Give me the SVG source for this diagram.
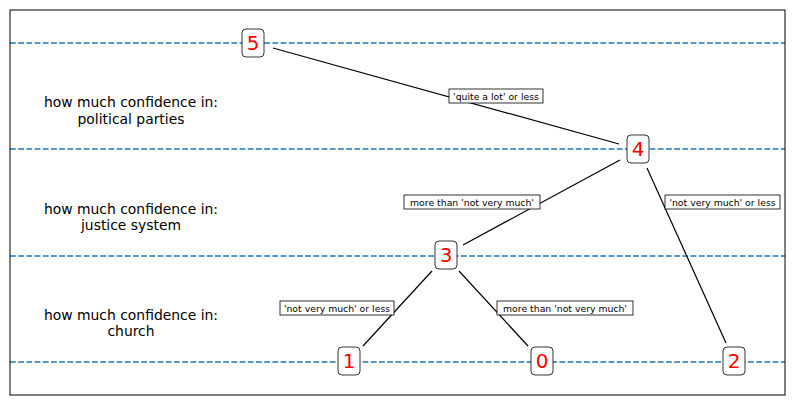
<svg xmlns="http://www.w3.org/2000/svg" width="794" height="405" viewBox="0 0 794 405">
<style>
.lvl{stroke:#1f77b4;stroke-width:1.6;stroke-dasharray:5.8 2.4;fill:none}
.edge{stroke:#000;stroke-width:1.2;fill:none}
.nbox{fill:#fff;stroke:#000;stroke-width:0.8}
.ntxt{font-family:"DejaVu Sans",sans-serif;font-size:20px;fill:#ff0000;text-anchor:middle}
.lbox{fill:#fff;stroke:#000;stroke-width:0.8}
.ltxt{font-family:"DejaVu Sans",sans-serif;font-size:9.3px;fill:#000;text-anchor:middle}
.side{font-family:"DejaVu Sans",sans-serif;font-size:13.9px;fill:#000;text-anchor:middle}
</style>
<rect x="0" y="0" width="794" height="405" fill="#fff"/>
<g id="levels">
<line class="lvl" x1="10" y1="43" x2="785" y2="43"/>
<line class="lvl" x1="10" y1="149" x2="785" y2="149"/>
<line class="lvl" x1="10" y1="256" x2="785" y2="256"/>
<line class="lvl" x1="10" y1="362" x2="785" y2="362"/>
</g>
<g id="side-labels">
<text class="side" x="131" y="107">how much confidence in:</text>
<text class="side" x="131" y="124">political parties</text>
<text class="side" x="131" y="214">how much confidence in:</text>
<text class="side" x="131" y="230">justice system</text>
<text class="side" x="131" y="320">how much confidence in:</text>
<text class="side" x="131" y="336">church</text>
</g>
<g id="connectors">
<line class="edge" x1="273" y1="48" x2="619" y2="144"/>
<line class="edge" x1="620" y1="160" x2="463" y2="245"/>
<line class="edge" x1="647" y1="168" x2="726" y2="343"/>
<line class="edge" x1="432" y1="271" x2="363" y2="346"/>
<line class="edge" x1="459" y1="271" x2="528" y2="346"/>
<g id="edge-labels">
<rect class="lbox" x="449" y="89" width="94" height="14"/>
<text class="ltxt" x="496" y="99.5">'quite a lot' or less</text>
<rect class="lbox" x="404" y="195" width="136" height="14"/>
<text class="ltxt" x="472" y="205.5">more than 'not very much'</text>
<rect class="lbox" x="665" y="195" width="115" height="14"/>
<text class="ltxt" x="722.5" y="205.5">'not very much' or less</text>
<rect class="lbox" x="280" y="301" width="114" height="14"/>
<text class="ltxt" x="337" y="311.5">'not very much' or less</text>
<rect class="lbox" x="497" y="301" width="136" height="14"/>
<text class="ltxt" x="565" y="311.5">more than 'not very much'</text>
</g>
</g>
<g id="node-5"><rect class="nbox" x="242" y="29" width="22" height="28" rx="4"/><text class="ntxt" x="253" y="50">5</text></g>
<g id="node-4"><rect class="nbox" x="627" y="135" width="22" height="28" rx="4"/><text class="ntxt" x="638" y="156">4</text></g>
<g id="node-3"><rect class="nbox" x="435" y="241" width="22" height="28" rx="4"/><text class="ntxt" x="446" y="262">3</text></g>
<g id="node-1"><rect class="nbox" x="338" y="347" width="22" height="28" rx="4"/><text class="ntxt" x="349" y="368">1</text></g>
<g id="node-0"><rect class="nbox" x="531" y="347" width="22" height="28" rx="4"/><text class="ntxt" x="542" y="368">0</text></g>
<g id="node-2"><rect class="nbox" x="723" y="347" width="22" height="28" rx="4"/><text class="ntxt" x="734" y="368">2</text></g>
<rect x="10" y="10" width="775" height="385" fill="none" stroke="#000" stroke-width="1"/>
</svg>
